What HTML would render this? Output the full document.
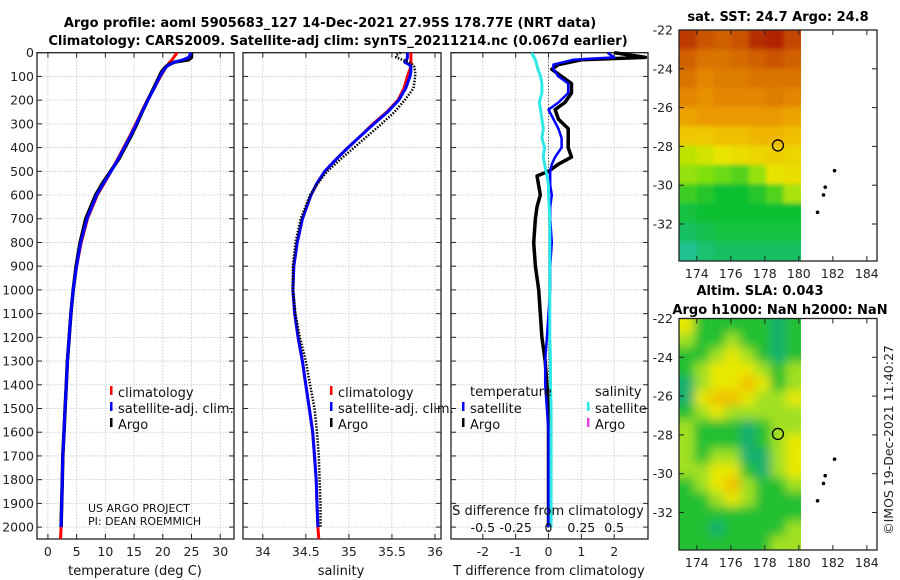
<!DOCTYPE html>
<html><head><meta charset="utf-8"><style>
body{margin:0;background:#fff;}
svg{display:block;font-family:"DejaVu Sans","Liberation Sans",sans-serif;}
.t{font-weight:bold;font-size:13px;}
.tk{font-size:12.5px;fill:#222;}
</style></head><body>
<svg id="c" width="900" height="580" viewBox="0 0 900 580">
<defs>
<filter id="b1" x="-20%" y="-20%" width="140%" height="140%"><feGaussianBlur stdDeviation="2"/></filter>
<filter id="b2" x="-20%" y="-20%" width="140%" height="140%"><feGaussianBlur stdDeviation="5"/></filter>
<clipPath id="cp1"><rect x="679" y="30" width="122" height="231"/></clipPath>
<clipPath id="cp2"><rect x="679" y="318.5" width="122" height="231.5"/></clipPath>
</defs>
<text class="t" x="330" y="27" text-anchor="middle">Argo profile: aoml 5905683_127 14-Dec-2021 27.95S 178.77E (NRT data)</text>
<text class="t" x="338" y="45" text-anchor="middle">Climatology: CARS2009. Satellite-adj clim: synTS_20211214.nc (0.067d earlier)</text>
<text class="t" x="778" y="21" text-anchor="middle">sat. SST: 24.7 Argo: 24.8</text>
<text class="t" x="760" y="295" text-anchor="middle">Altim. SLA: 0.043</text>
<text class="t" x="780" y="314" text-anchor="middle">Argo h1000: NaN h2000: NaN</text>
<text x="893" y="440" font-size="12.5" fill="#222" text-anchor="middle" transform="rotate(-90 893 440)">©IMOS 19-Dec-2021 11:40:27</text>
</svg>
<script>
const depths=[0,10,20,30,40,50,60,80,100,150,200,250,300,350,400,450,500,550,600,700,800,900,1000,1100,1200,1300,1400,1500,1600,1700,1800,1900,2000];
const argoT=[25,25,25,24.5,22,21,20.5,19.8,19.4,18.4,17.4,16.4,15.5,14.5,13.4,12.3,10.9,9.5,8.3,6.6,5.6,4.9,4.4,4.0,3.7,3.4,3.2,3.0,2.8,2.6,2.5,2.4,2.3];
const climT=[22.5,22.2,21.9,21.6,21.2,20.9,20.6,20.1,19.6,18.5,17.3,16.3,15.3,14.3,13.2,12.1,11.0,9.8,8.6,6.9,5.8,5.0,4.4,4.0,3.7,3.4,3.2,3.0,2.8,2.6,2.5,2.4,2.3];
const satT=[24.9,24.7,24.5,23.5,22,21.2,20.6,20.0,19.5,18.5,17.4,16.4,15.4,14.4,13.3,12.2,11.0,9.7,8.5,6.8,5.7,5.0,4.4,4.0,3.7,3.4,3.2,3.0,2.8,2.6,2.5,2.4,2.3];
const climS=[35.72,35.72,35.72,35.72,35.72,35.72,35.72,35.7,35.68,35.64,35.57,35.44,35.28,35.14,34.99,34.85,34.72,34.63,34.56,34.46,34.40,34.36,34.35,34.37,34.41,34.46,34.50,34.54,34.58,34.60,34.62,34.63,34.64];
const satS=[35.68,35.68,35.68,35.67,35.65,35.7,35.72,35.72,35.71,35.66,35.58,35.45,35.29,35.14,34.99,34.85,34.72,34.63,34.56,34.46,34.40,34.36,34.35,34.37,34.41,34.46,34.50,34.54,34.58,34.60,34.62,34.63,34.64];
const argoS=[35.6,35.55,35.55,35.62,35.7,35.74,35.76,35.77,35.77,35.75,35.65,35.53,35.38,35.22,35.06,34.9,34.75,34.64,34.55,34.44,34.38,34.35,34.35,34.38,34.43,34.5,34.55,34.6,34.63,34.65,34.66,34.67,34.67];
const tdDepth=[0,10,20,30,50,70,100,130,170,210,240,280,320,360,400,440,470,500,520,560,600,650,700,800,900,1000,1100,1200,1300,1400,1500,1600,1800,2000];
const argoTd=[2.0,2.5,2.95,1.0,0.3,0.1,0.4,0.7,0.7,0.5,0.2,0.3,0.6,0.6,0.6,0.7,0.3,0.0,-0.35,-0.3,-0.25,-0.35,-0.4,-0.45,-0.4,-0.3,-0.25,-0.2,-0.1,-0.05,0,0,0,0];
const satTd=[1.8,1.9,2.0,0.75,0.15,0.15,0.3,0.6,0.6,0.3,0.0,0.15,0.3,0.4,0.4,0.2,0.1,0.05,0.05,0.05,0.1,0.05,0.05,0.1,0.05,0.05,0.0,-0.05,-0.1,-0.1,-0.05,0,0,0];
const satSd=[-0.13,-0.12,-0.11,-0.1,-0.09,-0.08,-0.06,-0.05,-0.05,-0.07,-0.06,-0.05,-0.04,-0.05,-0.03,-0.04,-0.03,-0.02,-0.01,0,0,0.005,0.01,0.01,0.01,0.01,0.01,0.01,0.015,0.015,0.02,0.02,0.02,0.02];
const depthTicks=[0,100,200,300,400,500,600,700,800,900,1000,1100,1200,1300,1400,1500,1600,1700,1800,1900,2000];
const tTicks=[0,5,10,15,20,25,30];
const sTicks=[34,34.5,35,35.5,36];
const sTickLabels=["34","34.5","35","35.5","36"];
const dTicks=[-2,-1,0,1,2];
const sdTicks=[-0.5,-0.25,0,0.25,0.5];
const sdTickLabels=["-0.5","-0.25","0","0.25","0.5"];
const sstRows=[
[25.8,25.6,25.5,25.6,25.9,26.0,25.7],
[25.5,25.3,25.3,25.4,25.5,25.6,25.5],
[25.3,25.1,25.2,25.2,25.3,25.3,25.3],
[25.1,25.0,25.1,25.1,25.1,25.2,25.1],
[24.8,24.9,24.9,24.9,24.9,24.9,24.8],
[24.4,24.4,24.5,24.5,24.6,24.6,24.5],
[23.8,23.9,24.0,24.1,24.2,24.3,24.2],
[23.6,23.5,23.4,23.3,23.6,24.0,24.1],
[23.2,23.1,23.0,23.0,23.1,23.3,23.7],
[22.9,23.0,23.0,23.0,23.0,23.0,23.0],
[22.7,22.8,22.9,22.9,22.9,22.9,22.9],
[22.4,22.6,22.7,22.7,22.7,22.7,22.7]];
const slaRows=[
[3,1,1,1,1,1,0,1],[2,1,1,2,1,1,0,1],[1,1,2,3,2,1,0,1],[1,2,3,3,3,2,1,2],
[0,2,3,3,4,3,1,2],[0,3,4,4,3,2,2,3],[1,2,3,2,2,2,2,2],[2,1,1,1,0,1,2,2],
[2,1,1,1,0,1,2,3],[2,1,2,2,0,0,2,3],[2,2,3,3,1,0,2,3],[1,2,3,4,2,1,1,2],
[1,1,2,3,2,1,1,1],[1,1,1,1,1,1,1,1],[1,1,0,1,1,1,1,2],[1,1,1,1,1,1,2,2]];
const latTicks=[-22,-24,-26,-28,-30,-32];
const lonTicks=[174,176,178,180,182,184];
const floatPos=[178.77,-27.95];
const islands=[[181.1,-31.4],[181.45,-30.5],[181.55,-30.1],[182.1,-29.25]];

const svg=document.getElementById('c');const NS='http://www.w3.org/2000/svg';
function mk(t,a,p){const e=document.createElementNS(NS,t);for(const k in a)e.setAttribute(k,a[k]);(p||svg).appendChild(e);return e;}
const Y=d=>52.7+d*0.2372, Ybot=539;
function panel(x0,x1,vmin,vmax,ticks,labels,name){
  const X=v=>x0+(v-vmin)/(vmax-vmin)*(x1-x0);
  const g=mk('g',{});
  depthTicks.forEach(d=>{mk('line',{x1:x0,x2:x1,y1:Y(d),y2:Y(d),stroke:'#b8c4e0','stroke-width':0.8,'stroke-dasharray':'1.5,1.5'},g);
    mk('line',{x1:x0,x2:x0+5,y1:Y(d),y2:Y(d),stroke:'#222'},g);mk('line',{x1:x1-5,x2:x1,y1:Y(d),y2:Y(d),stroke:'#222'},g);});
  ticks.forEach((v,i)=>{const x=X(v);mk('line',{x1:x,x2:x,y1:52.7,y2:Ybot,stroke:'#b8c4e0','stroke-width':0.8,'stroke-dasharray':'1.5,1.5'},g);
    mk('line',{x1:x,x2:x,y1:Ybot-5,y2:Ybot,stroke:'#222'},g);mk('line',{x1:x,x2:x,y1:52.7,y2:57.7,stroke:'#222'},g);
    const t=mk('text',{x:x,y:556,'text-anchor':'middle',class:'tk'},g);t.textContent=labels[i];
    });
  mk('rect',{x:x0,y:52.7,width:x1-x0,height:Ybot-52.7,fill:'none',stroke:'#222','stroke-width':1.3},g);
  return {X,g};
}
function line(g,X,xs,ds,col,w,dash,name){
  const pts=xs.map((v,i)=>X(v).toFixed(1)+','+Y(ds[i]).toFixed(1)).join(' ');
  const a={points:pts,fill:'none',stroke:col,'stroke-width':w,'stroke-linejoin':'round'};if(dash)a['stroke-dasharray']=dash;
  const e=mk('polyline',a,g);return e;}
function txt(x,y,s,sz,anchor,name,extra){const t=mk('text',Object.assign({x:x,y:y,'font-size':sz,fill:'#111','text-anchor':anchor||'start'},extra||{}));t.textContent=s;
  return t;}
depthTicks.forEach(d=>{const t=txt(34,Y(d)+4.5,String(d),12.5,'end','y-tick-label');t.setAttribute('class','tk');});
const p1=panel(37,234,-1.9,32.4,tTicks,tTicks.map(String),'temperature-panel');
line(p1.g,p1.X,climT.concat([2.2]),depths.concat([2050]),'#f00',3,null,'climatology-temperature-line');
line(p1.g,p1.X,argoT,depths,'#000',3.5,null,'argo-temperature-line');
line(p1.g,p1.X,satT,depths,'#00f',3,null,'satellite-temperature-line');
txt(135,575,'temperature (deg C)',13,'middle','x-axis-title-temperature');
const p2=panel(243,441,33.77,36.07,sTicks,sTickLabels,'salinity-panel');
line(p2.g,p2.X,climS.concat([34.65]),depths.concat([2050]),'#f00',3,null,'climatology-salinity-line');
line(p2.g,p2.X,satS,depths,'#00f',3,null,'satellite-salinity-line');
line(p2.g,p2.X,argoS,depths,'#000',2.5,'1.5,1.5','argo-salinity-line');
txt(341,575,'salinity',13,'middle','x-axis-title-salinity');
const p3=panel(451,648,-2.97,3.03,dTicks,dTicks.map(String),'difference-panel');
mk('line',{x1:p3.X(0),x2:p3.X(0),y1:52.7,y2:Ybot,stroke:'#333','stroke-width':1,'stroke-dasharray':'1,2'},p3.g);
line(p3.g,p3.X,argoTd,tdDepth,'#000',3.5,null,'argo-temperature-diff-line');
line(p3.g,p3.X,satTd,tdDepth,'#00f',2.5,null,'satellite-temperature-diff-line');
line(p3.g,p3.X,satSd.map(v=>v*4),tdDepth,'#2ee8e8',3,null,'satellite-salinity-diff-line');
txt(548,515,'S difference from climatology',13,'middle','s-diff-axis-title');
sdTicks.forEach((v,i)=>txt(p3.X(v*4),532,sdTickLabels[i],12.5,'middle','s-diff-tick-label'));
txt(549,575,'T difference from climatology',13,'middle','x-axis-title-tdiff');
function leg(x,y,col,label,name){const r=mk('rect',{x:x,y:y-11,width:2.5,height:9,fill:col});
  txt(x+8,y,label,13,'start',name);}
leg(110,397,'#f00','climatology','legend-climatology');leg(110,413,'#00f','satellite-adj. clim.','legend-satellite');leg(110,429,'#000','Argo','legend-argo');
leg(330,397,'#f00','climatology','legend-climatology-s');leg(330,413,'#00f','satellite-adj. clim.','legend-satellite-s');leg(330,429,'#000','Argo','legend-argo-s');
txt(470,396,'temperature',13,'start','legend-temperature-header');txt(595,396,'salinity',13,'start','legend-salinity-header');
leg(462,413,'#00f','satellite','legend-t-satellite');leg(462,429,'#000','Argo','legend-t-argo');
leg(587,413,'#2ee8e8','satellite','legend-s-satellite');leg(587,429,'#e040e0','Argo','legend-s-argo');
txt(88,512,'US ARGO PROJECT',11,'start','credit-project');txt(88,525,'PI: DEAN ROEMMICH',11,'start','credit-pi');
const LX=v=>679+(v-172.95)*17.0;
function sstCol(v){const st=[[22.4,[32,192,144]],[23,[16,192,48]],[23.5,[128,224,16]],[24,[232,228,0]],[24.5,[240,192,0]],[25,[232,144,0]],[25.5,[208,96,0]],[26,[176,32,0]]];
  if(v<=st[0][0])return 'rgb('+st[0][1]+')';for(let i=1;i<st.length;i++){if(v<=st[i][0]){const f=(v-st[i-1][0])/(st[i][0]-st[i-1][0]);const c=st[i-1][1].map((a,k)=>Math.round(a+f*(st[i][1][k]-a)));return 'rgb('+c+')';}}return 'rgb('+st[st.length-1][1]+')';}
const slaPal=['#18b070','#20c030','#a0e020','#e8e800','#f0c000'];
function cellRect(g,x0,y0,w,h,first,lastC,firstR,lastR,fill,name){
  let x=x0,y=y0,ww=w+0.5,hh=h+0.5;
  if(first){x-=20;ww+=20;} if(lastC)ww+=20; if(firstR){y-=20;hh+=20;} if(lastR)hh+=20;
  const e=mk('rect',{x:x,y:y,width:ww,height:hh,fill:fill},g);}
function map(top,bot,name,draw){const LY=v=>top+(-22-v)*19.4;
  const g=mk('g',{});
  draw(g,LY);
  latTicks.forEach(v=>{mk('line',{x1:679,x2:684,y1:LY(v),y2:LY(v),stroke:'#222'},g);mk('line',{x1:872,x2:877,y1:LY(v),y2:LY(v),stroke:'#222'},g);
    const t=txt(673,LY(v)+4.5,String(v),12.5,'end','lat-tick-label');t.setAttribute('class','tk');});
  lonTicks.forEach(v=>{mk('line',{x1:LX(v),x2:LX(v),y1:bot-5,y2:bot,stroke:'#222'},g);mk('line',{x1:LX(v),x2:LX(v),y1:top,y2:top+5,stroke:'#222'},g);
    const t=txt(LX(v),bot+17,String(v),12.5,'middle','lon-tick-label');t.setAttribute('class','tk');});
  islands.forEach(p=>{const c=mk('circle',{cx:LX(p[0]),cy:LY(p[1]),r:1.8,fill:'#000'},g);});
  const c=mk('circle',{cx:LX(floatPos[0]),cy:LY(floatPos[1]),r:5.5,fill:'none',stroke:'#000','stroke-width':1.3},g);
  mk('rect',{x:679,y:top,width:198,height:bot-top,fill:'none',stroke:'#222','stroke-width':1.3},g);}
map(30,261,'sst-map',(g,LY)=>{const cg=mk('g',{'clip-path':'url(#cp1)'},g);const bg=mk('g',{filter:'url(#b1)'},cg);
  const cw=122/7,ch=231/12;sstRows.forEach((row,r)=>row.forEach((v,c)=>{
  cellRect(bg,679+c*cw,30+r*ch,cw,ch,c==0,c==row.length-1,r==0,r==sstRows.length-1,sstCol(v),'sst-cell');}));});
map(318.5,550,'sla-map',(g,LY)=>{const cg=mk('g',{'clip-path':'url(#cp2)'},g);const bg=mk('g',{filter:'url(#b2)'},cg);
  const cw=122/8,ch=(550-318.5)/16;slaRows.forEach((row,r)=>row.forEach((v,c)=>{
  cellRect(bg,679+c*cw,318.5+r*ch,cw,ch,c==0,c==row.length-1,r==0,r==slaRows.length-1,slaPal[v],'sla-cell');}));});
</script>
</body></html>
